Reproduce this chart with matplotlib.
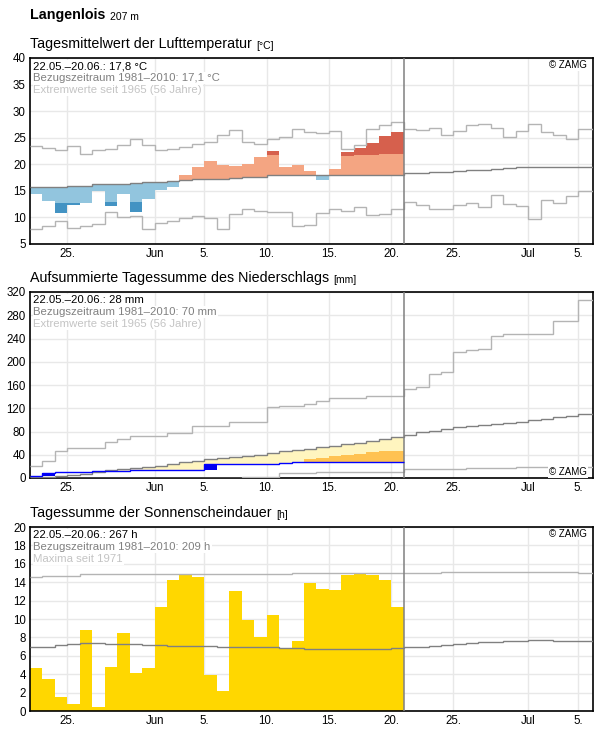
import numpy as np
import matplotlib
matplotlib.use("Agg")
import matplotlib.pyplot as plt

plt.rcParams['font.family'] = ['Liberation Sans', 'DejaVu Sans']

# Tage ab 22.05. (Index 0); Messwerte fuer 30 Tage, Klima/Extreme fuer 46 Tage
start = np.datetime64('2021-05-22')
n_obs = 30

tick_dates = ['2021-05-25', '2021-06-01', '2021-06-05', '2021-06-10', '2021-06-15',
              '2021-06-20', '2021-06-25', '2021-07-01', '2021-07-05']
tick_labels = ['25.', 'Jun', '5.', '10.', '15.', '20.', '25.', 'Jul', '5.']

# ---------------- Lufttemperatur ----------------
temp_obs = [14.5, 13.0, 10.9, 12.3, 12.8, 15.0, 12.2, 14.4, 11.0, 13.5,
            15.2, 15.7, 18.0, 19.5, 20.6, 19.9, 19.7, 20.05, 21.4, 22.5,
            19.5, 19.9, 18.7, 17.1, 19.1, 22.3, 23.1, 24.0, 25.4, 26.1]
temp_mean = [15.7, 15.7, 15.7, 15.9, 15.9, 16.2, 16.2, 16.2, 16.5, 16.7,
             16.7, 16.85, 17.0, 17.15, 17.3, 17.3, 17.4, 17.65, 17.65, 17.9,
             17.9, 17.9, 17.9, 17.9, 17.9, 17.9, 17.9, 17.95, 18.0, 18.05,
             18.3, 18.4, 18.5, 18.6, 18.8, 18.9, 19.0, 19.2, 19.3, 19.4,
             19.45, 19.5, 19.55, 19.55, 19.55, 19.55]
temp_upper_limit = [19.6, 19.6, 19.6, 19.8, 19.8, 20.1, 20.1, 20.1, 20.4, 20.6,
                    20.6, 20.8, 20.9, 21.1, 21.2, 21.2, 21.3, 21.5, 21.5, 21.7,
                    21.7, 21.7, 21.7, 21.7, 21.7, 21.6, 21.7, 21.8, 21.85, 21.9]
temp_lower_limit = [12.6, 12.7, 12.7, 12.7, 12.8, 12.9, 12.9, 13.0, 12.9, 13.1,
                    13.3, 13.4, 13.5, 13.6, 13.7, 13.8, 13.9, 14.0, 14.1, 14.2,
                    14.3, 14.4, 14.4, 14.5, 14.5, 14.5, 14.6, 14.6, 14.6, 14.7]
temp_max = [23.4, 23.1, 22.6, 23.4, 21.9, 22.6, 22.8, 23.7, 24.7, 23.6,
            22.6, 22.85, 23.3, 23.75, 24.1, 25.5, 26.4, 24.1, 23.8, 24.7,
            25.2, 26.6, 26.0, 25.8, 26.2, 22.85, 23.7, 26.7, 27.3, 28.0,
            26.6, 26.5, 26.8, 25.45, 26.3, 27.45, 27.6, 26.85, 25.2, 26.3,
            27.5, 26.1, 25.45, 24.8, 26.6, 26.6]
temp_min = [7.8, 8.3, 9.3, 8.0, 8.3, 8.7, 11.0, 10.0, 10.2, 7.8,
            8.9, 9.3, 9.8, 10.2, 9.9, 7.9, 10.7, 11.65, 11.3, 11.0,
            11.0, 8.3, 8.5, 10.75, 11.5, 11.3, 12.0, 10.4, 10.7, 11.5,
            12.85, 12.4, 11.5, 11.5, 12.3, 12.7, 11.9, 14.2, 12.6, 12.1,
            9.7, 13.2, 12.7, 14.0, 15.0, 15.0]

# ---------------- Niederschlag ----------------
prec_daily = [3.4, 6.0, 0.3, 0, 0, 1.8, 0, 0, 1.7, 0,
              0, 0, 0, 0, 10.3, 0, 0, 0, 0, 0,
              2.0, 2.5, 0, 0, 0, 0, 0, 0, 0, 0]
prec_mean = [1.0, 2.5, 4.0, 5.5, 7.0, 9.7, 13.8, 15.5, 17.8, 19.5,
             21.2, 24.1, 27.0, 29.8, 32.1, 33.8, 35.6, 37.8, 40.1, 43.0,
             45.9, 48.2, 50.5, 52.8, 55.1, 57.9, 60.8, 63.1, 67.1, 70.0,
             74.0, 79.7, 81.4, 83.7, 87.7, 90.0, 91.2, 93.5, 94.6, 95.8,
             99.2, 101.0, 105.5, 106.7, 109.5, 109.5]
prec_low_limit = [0, 1, 2, 3, 4, 5, 6, 7, 8, 9,
                  10, 11, 12, 13, 14, 15, 17, 19, 21, 23,
                  25, 27, 32.7, 34.4, 37.3, 39.6, 41.9, 44.7, 46.4, 46.4]
prec_max = [20.6, 29.8, 45.9, 51.0, 51.0, 51.0, 61.4, 67.1, 72.3, 72.3,
            72.3, 78.0, 78.0, 90.0, 90.0, 90.0, 96.0, 96.0, 96.0, 121.6,
            123.4, 123.4, 126.7, 132.0, 138.0, 138.0, 138.0, 140.5, 140.5, 140.5,
            152.5, 156.0, 178.3, 182.4, 216.8, 219.6, 221.4, 243.7, 247.7, 247.7,
            247.7, 247.7, 269.5, 269.5, 305.6, 305.6]
prec_min = [0] * 15 + [0.6, 0.6, 2, 2, 2, 8.5, 8.5, 8.5, 10, 10,
                       10, 10, 10, 10, 10, 15, 15, 15, 15, 15,
                       16.6, 16.6, 16.6, 16.6, 18.3, 18.3, 18.3, 18.3, 18.3, 18.3, 18.3]

# ---------------- Sonnenschein ----------------
sun_obs = [4.7, 3.5, 1.5, 0.8, 8.8, 0.4, 4.8, 8.5, 4.1, 4.7,
           11.3, 14.2, 14.8, 14.6, 3.9, 2.2, 13.0, 9.9, 8.0, 10.4,
           6.9, 7.6, 13.9, 13.3, 13.2, 14.8, 14.9, 14.8, 14.2, 11.3]
sun_mean = [6.92, 7.0, 7.14, 7.25, 7.36, 7.36, 7.3, 7.25, 7.25, 7.14,
            7.14, 7.03, 7.03, 7.03, 7.03, 6.92, 6.92, 6.92, 6.92, 6.92,
            6.8, 6.8, 6.7, 6.7, 6.7, 6.7, 6.7, 6.7, 6.75, 6.8,
            6.92, 6.99, 7.1, 7.2, 7.3, 7.4, 7.5, 7.5, 7.6, 7.6,
            7.7, 7.7, 7.6, 7.6, 7.56, 7.56]
sun_max = [14.6, 14.7, 14.7, 14.7] + [14.85] * 17 + [15.0] * 12 + [15.1] * 11 + [15.0] * 2

# ------------------------------------------------
xt = [(np.datetime64(d) - start) / np.timedelta64(1, 'D') for d in tick_dates]
days = np.arange(n_obs)
edges = np.arange(len(temp_mean) + 1)
obs_edges = np.arange(n_obs + 1)

C_MEAN = '#808080'
C_EXT = '#b4b4b4'
LW = 1.0

fig = plt.figure(figsize=(5.96, 7.29), dpi=100)
W, H = 596, 729


def make_ax(top, bottom):
    return fig.add_axes([30 / W, (H - bottom) / H, 563 / W, (bottom - top) / H])


def setup(ax, ylim, yticks, title, unit):
    ax.set_xlim(0, 45.2)
    ax.set_ylim(*ylim)
    ax.set_yticks(yticks)
    ax.set_xticks(xt, tick_labels)
    ax.grid(True, color='#e8e8e8', lw=1)
    ax.set_axisbelow(True)
    ax.tick_params(length=0, labelsize=8.3, pad=3)
    for s in ax.spines.values():
        s.set_color('black')
        s.set_linewidth(1.2)
    ax.axvline(n_obs, color=C_MEAN, lw=1.1, zorder=4)
    t = ax.annotate(title, xy=(0, 1), xycoords='axes fraction', xytext=(0, 7.5),
                    textcoords='offset points', fontsize=10.3, va='baseline')
    ax.annotate(unit, xy=(1, 0), xycoords=t, xytext=(3, 0), textcoords='offset points',
                fontsize=7.5, va='bottom')


def info(ax, lines):
    for i, (txt, c) in enumerate(zip(lines, ['black', '#808080', '#c4c4c4'])):
        ax.annotate(txt, xy=(0, 1), xycoords='axes fraction', xytext=(2.5, -8 - i * 8.5),
                    textcoords='offset points', fontsize=8.2, color=c, va='baseline',
                    zorder=6, bbox=dict(facecolor='white', edgecolor='none', pad=0.6))


def zamg(ax, top=True):
    ax.annotate('© ZAMG', xy=(1, 1 if top else 0), xycoords='axes fraction',
                xytext=(-4.5, -7.5 if top else 2), textcoords='offset points',
                fontsize=7, ha='right', va='baseline', zorder=6,
                bbox=dict(facecolor='white', edgecolor='none', pad=0.6))


t0 = fig.text(30 / W, 1 - 19 / H, 'Langenlois', fontsize=10.3, weight='bold', va='baseline')

# ---------------- Panel 1: Temperatur ----------------
ax1 = make_ax(58, 244)
setup(ax1, (5, 40), range(5, 41, 5), 'Tagesmittelwert der Lufttemperatur', '[°C]')
ax1.annotate('207 m', xy=(1, 0), xycoords=t0, xytext=(3, 0), textcoords='offset points',
             fontsize=7.5, va='bottom')

obs = np.array(temp_obs)
tm = np.array(temp_mean[:n_obs])
up = np.array(temp_upper_limit)
lo = np.array(temp_lower_limit)
warm = obs >= tm
cold = ~warm

ax1.bar(days[warm], (np.minimum(obs, up) - tm)[warm], bottom=tm[warm], width=1,
        align='edge', color='#f4a582', lw=0, zorder=2)
hot = obs > up
ax1.bar(days[hot], (obs - up)[hot], bottom=up[hot], width=1, align='edge',
        color='#d6604d', lw=0, zorder=2)
ax1.bar(days[cold], (tm - np.maximum(obs, lo))[cold], bottom=np.maximum(obs, lo)[cold],
        width=1, align='edge', color='#92c5de', lw=0, zorder=2)
vcold = obs < lo
ax1.bar(days[vcold], (lo - obs)[vcold], bottom=obs[vcold], width=1, align='edge',
        color='#4393c3', lw=0, zorder=2)

ax1.stairs(temp_max, edges, color=C_EXT, lw=LW, baseline=None, zorder=3)
ax1.stairs(temp_min, edges, color=C_EXT, lw=LW, baseline=None, zorder=3)
ax1.stairs(temp_mean, edges, color=C_MEAN, lw=LW, baseline=None, zorder=3)

info(ax1, ['22.05.–20.06.: 17,8 °C', 'Bezugszeitraum 1981–2010: 17,1 °C',
           'Extremwerte seit 1965 (56 Jahre)'])
zamg(ax1)

# ---------------- Panel 2: Niederschlag ----------------
ax2 = make_ax(292, 478)
setup(ax2, (0, 320), range(0, 321, 40), 'Aufsummierte Tagessumme des Niederschlags', '[mm]')

daily = np.array(prec_daily)
cum = np.cumsum(daily)
pm = np.array(prec_mean[:n_obs])
pl = np.array(prec_low_limit)

dry = cum < pm
ax2.bar(days[dry], (pm - cum)[dry], bottom=cum[dry], width=1, align='edge',
        color='#fff5bf', lw=0, zorder=2)
vdry = cum < pl
ax2.bar(days[vdry], (pl - cum)[vdry], bottom=cum[vdry], width=1, align='edge',
        color='#ffc252', lw=0, zorder=2)
wet = daily >= 5
ax2.bar(days[wet], daily[wet], bottom=(cum - daily)[wet], width=1, align='edge',
        color='#0000ee', lw=0, zorder=3)

ax2.stairs(prec_max, edges, color=C_EXT, lw=LW, baseline=None, zorder=3)
ax2.stairs(prec_min, edges, color=C_EXT, lw=LW, baseline=None, zorder=3)
ax2.stairs(prec_mean, edges, color=C_MEAN, lw=LW, baseline=None, zorder=3)
ax2.stairs(cum, obs_edges, color='#0000ff', lw=LW, baseline=None, zorder=4)

info(ax2, ['22.05.–20.06.: 28 mm', 'Bezugszeitraum 1981–2010: 70 mm',
           'Extremwerte seit 1965 (56 Jahre)'])
zamg(ax2, top=False)

# ---------------- Panel 3: Sonnenschein ----------------
ax3 = make_ax(527, 711)
setup(ax3, (0, 20), range(0, 21, 2), 'Tagessumme der Sonnenscheindauer', '[h]')

ax3.bar(days, sun_obs, width=1, align='edge', color='#ffd700', lw=0, zorder=2)
ax3.stairs(sun_max, edges, color=C_EXT, lw=LW, baseline=None, zorder=3)
ax3.stairs(sun_mean, edges, color=C_MEAN, lw=LW, baseline=None, zorder=3)

info(ax3, ['22.05.–20.06.: 267 h', 'Bezugszeitraum 1981–2010: 209 h', 'Maxima seit 1971'])
zamg(ax3)

fig.savefig('out.png', dpi=100)
